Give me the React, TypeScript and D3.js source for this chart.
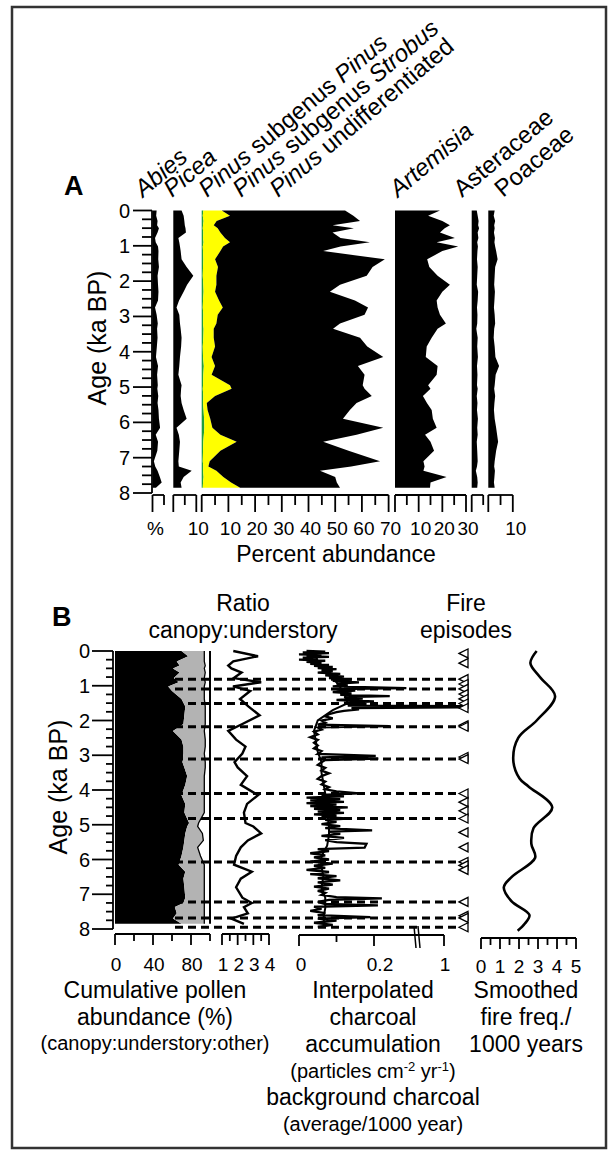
import React from "react";
import * as d3 from "d3";

const FONT = "'Liberation Sans', Arial, Helvetica, sans-serif";

// ---------- Panel A: pollen percentages by sample age (ka BP) ----------
const pollenAge = [0, 0.15, 0.3, 0.42, 0.5, 0.62, 0.78, 0.9, 1.02, 1.15, 1.38, 1.6, 1.85, 2.1, 2.3, 2.55, 2.75, 2.95, 3.2, 3.35, 3.6, 3.85, 4.15, 4.4, 4.65, 4.95, 5.05, 5.25, 5.45, 5.65, 5.9, 6.15, 6.35, 6.55, 6.8, 7.1, 7.25, 7.37, 7.55, 7.7, 7.85];
const abies = [1.8, 1.6, 2.2, 2.0, 2.8, 2.2, 1.1, 1.4, 2.4, 2.6, 2.5, 2.8, 2.2, 2.4, 2.6, 2.4, 1.1, 1.8, 2.3, 2.0, 2.2, 1.9, 1.5, 2.4, 2.0, 2.3, 2.1, 2.5, 2.2, 2.6, 2.8, 3.3, 1.4, 2.4, 2.1, 0.6, 1.2, 2.2, 3.2, 4.0, 1.5];
const picea = [3.6, 4.5, 4.8, 5.0, 5.3, 5.5, 2.2, 2.6, 2.9, 3.2, 3.6, 5.8, 8.7, 6.0, 4.5, 2.5, 1.4, 2.6, 2.9, 3.2, 3.6, 3.4, 2.9, 2.6, 2.2, 3.6, 3.4, 3.2, 3.6, 4.5, 5.8, 1.4, 2.4, 2.9, 2.6, 2.2, 2.4, 8.0, 4.5, 3.2, 3.6];
const pinusSubPinus = [0.6, 0.4, 0.7, 0.5, 0.4, 0.6, 0.5, 0.7, 0.4, 0.5, 0.6, 0.5, 0.4, 0.6, 0.7, 0.5, 0.4, 0.6, 0.5, 0.7, 0.6, 0.4, 0.5, 0.8, 0.6, 0.5, 0.4, 0.6, 0.5, 0.7, 0.9, 1.0, 0.8, 0.6, 0.5, 0.4, 0.6, 0.5, 0.7, 0.5, 0.4];
const pinusStrobus = [6.9, 10.2, 4.9, 4.0, 5.6, 6.4, 8.2, 9.9, 7.6, 6.5, 4.4, 5.6, 5.1, 4.9, 4.3, 6.0, 7.5, 5.4, 5.0, 3.8, 3.9, 4.6, 3.2, 4.2, 3.1, 10.1, 10.8, 4.4, 1.4, 1.5, 2.3, 3.0, 6.2, 12.5, 6.5, 2.6, 1.9, 5.0, 7.4, 10.5, 14.0];
const pinusUndiff = [46.2, 46.2, 53.7, 44.5, 51, 42, 43.3, 52.4, 44, 38.5, 63.6, 57.9, 56.3, 46.3, 43, 50.9, 54.4, 55, 46.3, 44.7, 54.8, 57, 64.3, 53.5, 57.3, 49.7, 49.8, 58.7, 56.1, 53.3, 49.7, 64, 51, 32.4, 48, 63.8, 53.5, 38.8, 41.9, 39.6, 37.4];
const artemisia = [19, 14, 20, 23.2, 21, 19, 25.3, 17.6, 26.7, 20, 13.6, 14.5, 18, 23.2, 20, 17.6, 18, 19, 21.5, 18, 15.5, 13.4, 13, 18, 17.6, 14, 15, 11.8, 13.5, 15.5, 16, 17.6, 12.7, 15, 16.5, 12, 12.5, 12, 21.8, 15, 14.8];
const asteraceae = [2.2, 2.6, 3.0, 2.8, 3.2, 2.6, 2.9, 2.4, 2.7, 2.5, 2.3, 2.6, 2.4, 2.2, 2.8, 2.6, 2.3, 2.5, 2.4, 2.0, 2.6, 2.4, 2.7, 2.3, 2.5, 2.3, 2.6, 2.2, 2.5, 2.3, 2.7, 2.4, 2.6, 2.2, 2.4, 2.6, 2.3, 1.8, 2.4, 2.6, 2.4];
const poaceae = [2.6, 2.2, 2.8, 2.4, 2.6, 2.3, 2.7, 2.5, 2.8, 3.2, 3.8, 2.8, 2.6, 2.4, 2.7, 2.5, 2.3, 2.6, 2.8, 2.4, 2.2, 2.6, 2.9, 4.4, 3.0, 2.6, 2.4, 2.8, 2.5, 2.3, 2.6, 3.2, 3.6, 4.0, 3.2, 2.6, 2.4, 2.7, 2.5, 2.3, 2.6];

// ---------- Panel B ----------
const canopy = [70, 77, 65, 68, 61, 68, 62, 67, 56, 60, 70, 74, 73, 72, 61, 70, 72, 72, 71, 73, 76, 74, 70, 74, 73, 78, 76, 74, 73, 72, 70, 67, 74, 72, 73, 74, 72, 63, 65, 61, 70];
const understory = [24, 17, 29, 27, 33, 27, 32, 28, 38, 34, 24, 21, 22, 23, 33, 25, 23, 22, 24, 22, 18, 20, 24, 20, 21, 10, 11, 18, 20, 15, 20, 27, 20, 22, 21, 20, 22, 31, 29, 33, 24];
const ratio = [1.72, 3.3, 1.72, 1.4, 1.6, 2.25, 1.75, 3.5, 1.7, 2.8, 2.15, 2.7, 3.4, 2.3, 1.4, 1.9, 2.5, 2.3, 1.8, 2.0, 2.6, 2.2, 3.3, 2.6, 2.4, 2.5, 3.0, 3.5, 2.65, 2.2, 1.9, 1.77, 2.9, 2.2, 1.9, 2.3, 2.9, 2.4, 2.65, 1.6, 2.4];

// interpolated charcoal accumulation [age, particles cm-2 yr-1]
const charcoal: [number, number][] = [
  [0, 0.02], [0.02, 0.07], [0.04, 0.01], [0.06, 0.08], [0.08, 0.03], [0.1, 0.0], [0.12, 0.06], [0.14, 0.02],
  [0.17, 0.08], [0.19, 0.01], [0.22, 0.05], [0.25, 0.0], [0.28, 0.07], [0.31, 0.02], [0.34, 0.06], [0.37, 0.03],
  [0.4, 0.08], [0.43, 0.04], [0.46, 0.09], [0.49, 0.05], [0.52, 0.1], [0.55, 0.06], [0.58, 0.09], [0.62, 0.05],
  [0.66, 0.11], [0.7, 0.07], [0.74, 0.12], [0.78, 0.08], [0.82, 0.14], [0.86, 0.09], [0.9, 0.16], [0.94, 0.1],
  [0.98, 0.13], [1.02, 0.09], [1.07, 0.57], [1.1, 0.1], [1.14, 0.15], [1.18, 0.09], [1.22, 0.14], [1.26, 0.11],
  [1.3, 0.38], [1.33, 0.12], [1.37, 0.17], [1.41, 0.1], [1.45, 0.2], [1.49, 0.12], [1.53, 0.18], [1.57, 0.13],
  [1.59, 1.2], [1.62, 1.2], [1.64, 0.14], [1.68, 0.16], [1.72, 0.12], [1.76, 0.1], [1.82, 0.08], [1.88, 0.07],
  [1.94, 0.09], [2.0, 0.06], [2.06, 0.07], [2.12, 0.05], [2.16, 0.38], [2.2, 0.05], [2.26, 0.06], [2.32, 0.04],
  [2.4, 0.05], [2.48, 0.03], [2.56, 0.05], [2.64, 0.04], [2.72, 0.05], [2.8, 0.04], [2.88, 0.06], [2.96, 0.05],
  [3.02, 0.22], [3.06, 0.06], [3.1, 0.25], [3.14, 0.07], [3.2, 0.06], [3.28, 0.05], [3.36, 0.07], [3.44, 0.06],
  [3.52, 0.08], [3.6, 0.06], [3.68, 0.05], [3.76, 0.07], [3.84, 0.06], [3.92, 0.08], [3.98, 0.07], [4.04, 0.1],
  [4.1, 0.16], [4.14, 0.06], [4.18, 0.12], [4.22, 0.02], [4.26, 0.11], [4.3, 0.03], [4.34, 0.12], [4.38, 0.02],
  [4.42, 0.1], [4.46, 0.03], [4.5, 0.13], [4.54, 0.04], [4.58, 0.11], [4.62, 0.05], [4.66, 0.12], [4.7, 0.04],
  [4.74, 0.1], [4.78, 0.06], [4.82, 0.13], [4.86, 0.07], [4.92, 0.1], [4.98, 0.06], [5.04, 0.11], [5.1, 0.07],
  [5.16, 0.195], [5.2, 0.08], [5.26, 0.11], [5.32, 0.06], [5.38, 0.12], [5.44, 0.07], [5.5, 0.1], [5.55, 0.18],
  [5.66, 0.175], [5.7, 0.05], [5.76, 0.08], [5.82, 0.03], [5.88, 0.07], [5.94, 0.04], [6.0, 0.08], [6.06, 0.03],
  [6.12, 0.09], [6.18, 0.04], [6.24, 0.07], [6.3, 0.02], [6.36, 0.08], [6.42, 0.03], [6.48, 0.1], [6.54, 0.05],
  [6.6, 0.11], [6.66, 0.05], [6.72, 0.09], [6.78, 0.04], [6.84, 0.08], [6.9, 0.05], [6.96, 0.07], [7.02, 0.06],
  [7.08, 0.1], [7.12, 0.29], [7.16, 0.08], [7.22, 0.05], [7.28, 0.07], [7.32, 0.245], [7.36, 0.04], [7.42, 0.06],
  [7.48, 0.03], [7.54, 0.07], [7.6, 0.05], [7.66, 0.19], [7.7, 0.05], [7.76, 0.1], [7.82, 0.04], [7.88, 0.09],
  [7.94, 0.05],
];
// background charcoal (average / 1000 yr)
const backgroundAge = [0, 0.3, 0.6, 0.9, 1.2, 1.5, 1.7, 2.0, 2.3, 2.6, 2.9, 3.2, 3.5, 3.8, 4.1, 4.4, 4.7, 5.0, 5.3, 5.6, 5.9, 6.2, 6.5, 6.8, 7.1, 7.4, 7.7, 7.95];
const backgroundValue = [0.04, 0.05, 0.07, 0.1, 0.12, 0.13, 0.09, 0.05, 0.04, 0.045, 0.05, 0.06, 0.06, 0.065, 0.07, 0.07, 0.075, 0.08, 0.08, 0.075, 0.06, 0.06, 0.065, 0.06, 0.07, 0.07, 0.065, 0.07];

const fireEpisodes = [0.07, 0.35, 0.81, 0.95, 1.09, 1.24, 1.38, 1.51, 1.64, 2.14, 2.18, 3.05, 3.11, 4.1, 4.35, 4.6, 4.82, 5.22, 5.65, 6.07, 6.17, 6.3, 7.22, 7.62, 7.68, 7.95];
const fireLines = [0.81, 1.09, 1.51, 2.18, 3.11, 4.1, 4.82, 6.07, 7.22, 7.68, 7.95];
const fireFreqAge = [0, 0.35, 0.75, 1.3, 2.0, 2.5, 3.15, 3.67, 3.9, 4.5, 5.1, 5.55, 5.95, 6.5, 6.8, 7.2, 7.6, 7.85, 8.05];
const fireFreq = [2.93, 2.6, 3.1, 3.9, 2.93, 1.96, 1.7, 2.03, 2.5, 3.75, 2.76, 2.65, 2.85, 1.62, 1.2, 1.6, 2.55, 2.3, 1.93];

const ageTicks = [0, 1, 2, 3, 4, 5, 6, 7, 8];

type Lab = { v: number; t: string; dx?: number };

function AgeAxis({ y, x, major, minor, labelX }: { y: d3.ScaleLinear<number, number>; x: number; major: number; minor: number; labelX: number }) {
  const minors = d3.range(0, 8, 0.25).filter((v) => v % 1 !== 0);
  return (
    <g stroke="#000" strokeWidth={1.8}>
      <line x1={x} x2={x} y1={y(0)} y2={y(8)} />
      {ageTicks.map((t) => (
        <g key={t}>
          <line x1={x - major} x2={x} y1={y(t)} y2={y(t)} />
          <text x={labelX} y={y(t)} stroke="none" fontSize={20} textAnchor="end" dominantBaseline="central">{t}</text>
        </g>
      ))}
      {minors.map((t) => (
        <line key={t} x1={x - minor} x2={x} y1={y(t)} y2={y(t)} />
      ))}
    </g>
  );
}

function BottomAxis({ scale, y, majors, minors, labels, majorLen, minorLen, labelY }: {
  scale: d3.ScaleLinear<number, number>; y: number; majors: number[]; minors: number[]; labels: Lab[];
  majorLen: number; minorLen: number; labelY: number;
}) {
  const dom = scale.domain();
  return (
    <g stroke="#000" strokeWidth={1.8}>
      <line x1={scale(dom[0])} x2={scale(dom[dom.length - 1])} y1={y} y2={y} />
      {majors.map((v) => <line key={"M" + v} x1={scale(v)} x2={scale(v)} y1={y} y2={y + majorLen} />)}
      {minors.map((v) => <line key={"m" + v} x1={scale(v)} x2={scale(v)} y1={y} y2={y + minorLen} />)}
      {labels.map((l) => (
        <text key={l.t + l.v} x={scale(l.v) + (l.dx ?? 0)} y={labelY} stroke="none" fontSize={19} textAnchor="middle">{l.t}</text>
      ))}
    </g>
  );
}

export default function App() {
  const yA = d3.scaleLinear().domain([0, 8]).range([210.5, 493]);
  const yB = d3.scaleLinear().domain([0, 8]).range([651, 929]);

  // panel A column scales
  const xAbies = d3.scaleLinear().domain([0, 5]).range([152.5, 164]);
  const xPicea = d3.scaleLinear().domain([0, 10]).range([173.3, 196.3]);
  const xPinus = d3.scaleLinear().domain([0, 70]).range([201.7, 388.6]);
  const xArt = d3.scaleLinear().domain([0, 30]).range([395, 466]);
  const xAst = d3.scaleLinear().domain([0, 5]).range([471.7, 483.2]);
  const xPoa = d3.scaleLinear().domain([0, 10]).range([488.3, 512.8]);

  const simpleArea = (xs: d3.ScaleLinear<number, number>, vals: number[]) =>
    d3.area<number>().y((_, i) => yA(pollenAge[i])).x0(xs(0)).x1((d) => xs(d))(vals) || "";

  const pinusRows = pollenAge.map((_, i) => ({ sub: pinusSubPinus[i], strobus: pinusStrobus[i], undiff: pinusUndiff[i] }));
  const pinusStack = d3.stack<{ sub: number; strobus: number; undiff: number }>().keys(["sub", "strobus", "undiff"])(pinusRows);
  const pinusColors = ["#1e9e3e", "#ffff00", "#000"];
  const stackArea = d3.area<d3.SeriesPoint<any>>()
    .y((_, i) => yA(pollenAge[i]))
    .x0((d) => xPinus(d[0]))
    .x1((d) => xPinus(d[1]));

  const headers: { x: number; parts: [string, boolean][] }[] = [
    { x: 143, parts: [["Abies", true]] },
    { x: 172, parts: [["Picea", true]] },
    { x: 207, parts: [["Pinus", true], [" subgenus ", false], ["Pinus", true]] },
    { x: 241, parts: [["Pinus", true], [" subgenus ", false], ["Strobus", true]] },
    { x: 278, parts: [["Pinus", true], [" undifferentiated", false]] },
    { x: 398, parts: [["Artemisia", true]] },
    { x: 462, parts: [["Asteraceae", false]] },
    { x: 503, parts: [["Poaceae", false]] },
  ];

  // panel B scales
  const xCum = d3.scaleLinear().domain([0, 100]).range([115, 210]);
  const xRatio = d3.scaleLinear().domain([1, 4]).range([222, 269]);
  const xChar = d3.scaleLinear().domain([0, 0.2, 1]).range([299, 374, 444]);
  const xFreq = d3.scaleLinear().domain([0, 5]).range([481, 576]);

  const cumRows = pollenAge.map((_, i) => ({ canopy: canopy[i], understory: understory[i] }));
  const canopyArea = d3.area<{ canopy: number; understory: number }>()
    .y((_, i) => yB(pollenAge[i])).x0(xCum(0)).x1((d) => xCum(d.canopy))(cumRows) || "";
  const underArea = d3.area<{ canopy: number; understory: number }>()
    .y((_, i) => yB(pollenAge[i])).x0((d) => xCum(d.canopy)).x1((d) => xCum(d.canopy + d.understory))(cumRows) || "";
  const underEdge = d3.line<{ canopy: number; understory: number }>()
    .y((_, i) => yB(pollenAge[i])).x((d) => xCum(d.canopy + d.understory))(cumRows) || "";
  const ratioLine = d3.line<number>().y((_, i) => yB(pollenAge[i])).x((d) => xRatio(d))(ratio) || "";
  const charLine = d3.line<[number, number]>().y((d) => yB(d[0])).x((d) => xChar(d[1]))(charcoal) || "";
  const bgLine = d3.line<number>().y((_, i) => yB(backgroundAge[i])).x((d) => xChar(d))(backgroundValue) || "";
  const freqLine = d3.line<number>().curve(d3.curveCatmullRom.alpha(0.5))
    .y((_, i) => yB(fireFreqAge[i])).x((d) => xFreq(d))(fireFreq) || "";

  const triTip = 459;

  return (
    <svg width={610} height={1152} style={{ position: "absolute", left: 0, top: 0, background: "#fff" }} fontFamily={FONT}>
      <rect x={12} y={7} width={594} height={1141} fill="none" stroke="#333" strokeWidth={2.5} />

      {/* ===== Panel A ===== */}
      <text x={64} y={195} fontSize={27} fontWeight="bold">A</text>
      {headers.map((h) => (
        <text key={h.x} transform={`translate(${h.x},198) rotate(-40)`} fontSize={24} style={{ whiteSpace: "pre" }}>
          {h.parts.map(([t, it], i) => (
            <tspan key={i} fontStyle={it ? "italic" : "normal"}>{t}</tspan>
          ))}
        </text>
      ))}
      <text transform="translate(106,338) rotate(-90)" fontSize={25} textAnchor="middle">Age (ka BP)</text>
      <AgeAxis y={yA} x={152} major={19} minor={10} labelX={130} />

      <path d={simpleArea(xAbies, abies)} fill="#000" />
      <path d={simpleArea(xPicea, picea)} fill="#000" />
      {pinusStack.map((s, i) => (
        <path key={s.key} d={stackArea(s as any) || ""} fill={pinusColors[i]} />
      ))}
      <path d={simpleArea(xArt, artemisia)} fill="#000" />
      <path d={simpleArea(xAst, asteraceae)} fill="#000" />
      <path d={simpleArea(xPoa, poaceae)} fill="#000" />

      <BottomAxis scale={xAbies} y={495} majors={[0]} minors={[5]} labels={[{ v: 0, t: "%", dx: 3 }]} majorLen={17} minorLen={10} labelY={535} />
      <BottomAxis scale={xPicea} y={495} majors={[0, 10]} minors={[5]} labels={[{ v: 10, t: "10", dx: 2 }]} majorLen={17} minorLen={10} labelY={535} />
      <BottomAxis scale={xPinus} y={495} majors={d3.range(0, 71, 10)} minors={d3.range(5, 70, 10)}
        labels={d3.range(10, 71, 10).map((v) => ({ v, t: String(v), dx: 2 }))} majorLen={17} minorLen={10} labelY={535} />
      <BottomAxis scale={xArt} y={495} majors={[0, 10, 20, 30]} minors={[5, 15, 25]}
        labels={[10, 20, 30].map((v) => ({ v, t: String(v), dx: 2 }))} majorLen={17} minorLen={10} labelY={535} />
      <BottomAxis scale={xAst} y={495} majors={[0]} minors={[5]} labels={[]} majorLen={17} minorLen={10} labelY={535} />
      <BottomAxis scale={xPoa} y={495} majors={[0, 10]} minors={[5]} labels={[{ v: 10, t: "10", dx: 3 }]} majorLen={17} minorLen={10} labelY={535} />
      <text x={336} y={562} fontSize={23} textAnchor="middle">Percent abundance</text>

      {/* ===== Panel B ===== */}
      <text x={52} y={626} fontSize={27} fontWeight="bold">B</text>
      <text x={243} y={611} fontSize={23} textAnchor="middle">Ratio</text>
      <text x={243} y={638} fontSize={23} textAnchor="middle">canopy:understory</text>
      <text x={466} y={611} fontSize={23} textAnchor="middle">Fire</text>
      <text x={466} y={638} fontSize={23} textAnchor="middle">episodes</text>
      <text transform="translate(67,787) rotate(-90)" fontSize={25} textAnchor="middle">Age (ka BP)</text>
      <AgeAxis y={yB} x={113} major={21} minor={7} labelX={90} />

      <path d={canopyArea} fill="#000" />
      <path d={underArea} fill="#b3b3b3" />
      <path d={underEdge} fill="none" stroke="#000" strokeWidth={1.3} />
      <line x1={xCum(100)} x2={xCum(100)} y1={yB(0)} y2={yB(pollenAge[pollenAge.length - 1])} stroke="#000" strokeWidth={2} />

      <path d={ratioLine} fill="none" stroke="#000" strokeWidth={2.4} strokeLinejoin="miter" />
      <path d={bgLine} fill="none" stroke="#000" strokeWidth={2} />
      <path d={charLine} fill="none" stroke="#000" strokeWidth={2.3} />

      {fireLines.map((a) => (
        <line key={a} x1={175} x2={triTip} y1={yB(a)} y2={yB(a)} stroke="#000" strokeWidth={3} strokeDasharray="8 5" />
      ))}
      {fireEpisodes.map((a) => (
        <path key={a} d={`M${triTip},${yB(a)} L${triTip + 9},${yB(a) - 4.5} L${triTip + 9},${yB(a) + 4.5} Z`} fill="#fff" stroke="#000" strokeWidth={1.3} />
      ))}
      <path d={freqLine} fill="none" stroke="#000" strokeWidth={2.6} />

      <BottomAxis scale={xCum} y={934} majors={[0, 40, 80]} minors={[20, 60, 100]}
        labels={[0, 40, 80].map((v) => ({ v, t: String(v), dx: 1 }))} majorLen={11} minorLen={7} labelY={971} />
      <BottomAxis scale={xRatio} y={934} majors={[1, 2, 3, 4]} minors={[1.5, 2.5, 3.5]}
        labels={[1, 2, 3, 4].map((v) => ({ v, t: String(v), dx: 1 }))} majorLen={11} minorLen={7} labelY={971} />
      <BottomAxis scale={xChar} y={935} majors={[0, 0.2, 1]} minors={[0.1]}
        labels={[{ v: 0, t: "0", dx: 2 }, { v: 0.2, t: "0.2", dx: 6 }, { v: 1, t: "1", dx: 1 }]} majorLen={11} minorLen={7} labelY={971} />
      <g stroke="#000" strokeWidth={1.5}>
        <line x1={414} x2={416} y1={926} y2={948} />
        <line x1={418} x2={420} y1={926} y2={948} />
      </g>
      <BottomAxis scale={xFreq} y={938} majors={[0, 1, 2, 3, 4, 5]} minors={[0.5, 1.5, 2.5, 3.5, 4.5]}
        labels={[0, 1, 2, 3, 4, 5].map((v) => ({ v, t: String(v) }))} majorLen={11} minorLen={7} labelY={973} />

      <g fontSize={23} textAnchor="middle">
        <text x={155} y={998}>Cumulative pollen</text>
        <text x={155} y={1025}>abundance (%)</text>
        <text x={155} y={1050} fontSize={20}>(canopy:understory:other)</text>
        <text x={373} y={998}>Interpolated</text>
        <text x={373} y={1025}>charcoal</text>
        <text x={373} y={1052}>accumulation</text>
        <text x={373} y={1078} fontSize={20}>
          <tspan>(particles cm</tspan>
          <tspan dy={-7} fontSize={13}>-2</tspan>
          <tspan dy={7}> yr</tspan>
          <tspan dy={-7} fontSize={13}>-1</tspan>
          <tspan dy={7}>)</tspan>
        </text>
        <text x={373} y={1105}>background charcoal</text>
        <text x={373} y={1131} fontSize={20}>(average/1000 year)</text>
        <text x={526} y={998}>Smoothed</text>
        <text x={526} y={1025}>fire freq./</text>
        <text x={526} y={1052}>1000 years</text>
      </g>
    </svg>
  );
}
